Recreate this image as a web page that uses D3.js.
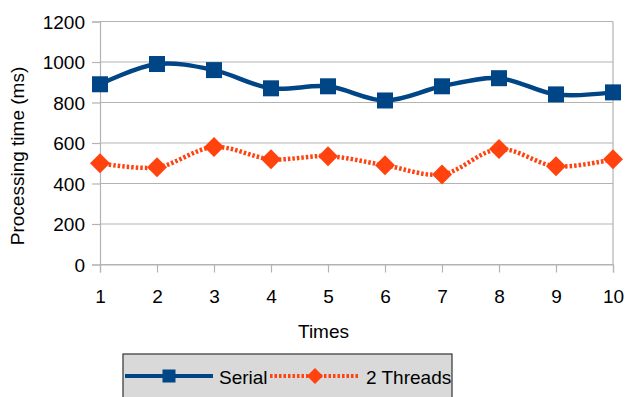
<!DOCTYPE html>
<html><head><meta charset="utf-8">
<script src="https://cdn.jsdelivr.net/npm/d3@7"></script>
<style>html,body{margin:0;padding:0;background:#fff;}svg{display:block;font-family:"Liberation Sans",Arial,sans-serif;}</style>
</head><body>
<script>
const times = [1,2,3,4,5,6,7,8,9,10];
const serial = [890,990,960,870,880,810,880,920,840,850];
const threads2 = [500,480,580,520,535,490,445,570,485,520];
const yTicks = [0,200,400,600,800,1000,1200];
const seriesNames = ["Serial","2 Threads"];

const W=625,H=397;
const FS=19;
const svg=d3.select("body").append("svg").attr("width",W).attr("height",H);
const x=d3.scaleLinear().domain([1,10]).range([100,613]);
const y=d3.scaleLinear().domain([0,1200]).range([264.5,21.5]);

// grid
svg.append("g").selectAll("line").data(yTicks).join("line")
 .attr("x1",100).attr("x2",613).attr("y1",d=>y(d)).attr("y2",d=>y(d))
 .attr("stroke","#b3b3b3").attr("stroke-width",1.2);
svg.append("line").attr("x1",613).attr("x2",613).attr("y1",y(1200)).attr("y2",y(0)).attr("stroke","#b3b3b3").attr("stroke-width",1.2);

// y axis
const ya=svg.append("g").attr("transform","translate(100,0)")
 .call(d3.axisLeft(y).tickValues(yTicks).tickSize(8).tickFormat(d3.format("d")));
ya.select(".domain").attr("stroke","#b3b3b3").attr("stroke-width",1.2);
ya.selectAll(".tick line").attr("stroke","#b3b3b3").attr("stroke-width",1.2);
ya.selectAll("text").attr("font-size",FS).attr("fill","#000").attr("x",-15).attr("dy","0.36em").attr("font-family","Liberation Sans, Arial, sans-serif");

// x axis
const xa=svg.append("g").attr("transform",`translate(0,${y(0)})`)
 .call(d3.axisBottom(x).tickValues(times).tickSize(8).tickFormat(d3.format("d")));
xa.select(".domain").attr("stroke","#b3b3b3").attr("stroke-width",1.2);
xa.selectAll(".tick line").attr("stroke","#b3b3b3").attr("stroke-width",1.2);
xa.selectAll("text").attr("font-size",FS).attr("fill","#000").attr("y",38.5).attr("dy",0).attr("font-family","Liberation Sans, Arial, sans-serif");

svg.append("text").attr("x",323.5).attr("y",338).attr("text-anchor","middle").attr("font-size",FS).text("Times");
svg.append("text").attr("transform","translate(24,156) rotate(-90)").attr("text-anchor","middle").attr("font-size",FS).text("Processing time (ms)");

const line=d3.line().x((d,i)=>x(times[i])).y(d=>y(d)).curve(d3.curveCatmullRom.alpha(0.5));
const blue="#004586", red="#ff420e";
svg.append("path").attr("d",line(serial)).attr("fill","none").attr("stroke",blue).attr("stroke-width",4.5);
svg.append("path").attr("d",line(threads2)).attr("fill","none").attr("stroke",red).attr("stroke-width",4.5).attr("stroke-dasharray","2.5,2");

const sq=16, dm=10;
svg.append("g").selectAll("rect").data(serial).join("rect")
 .attr("x",(d,i)=>x(times[i])-sq/2).attr("y",d=>y(d)-sq/2).attr("width",sq).attr("height",sq).attr("fill",blue);
svg.append("g").selectAll("path").data(threads2).join("path")
 .attr("d",(d,i)=>{const cx=x(times[i]),cy=y(d);return `M${cx},${cy-dm}L${cx+dm},${cy}L${cx},${cy+dm}L${cx-dm},${cy}Z`;})
 .attr("fill",red);

// legend
const lg=svg.append("g");
lg.append("rect").attr("x",123).attr("y",354).attr("width",329).attr("height",50).attr("fill","#d9d9d9").attr("stroke","#333").attr("stroke-width",1.2);
const ly=376, lsq=13, ldm=8;
lg.append("line").attr("x1",125).attr("x2",213).attr("y1",ly).attr("y2",ly).attr("stroke",blue).attr("stroke-width",4);
lg.append("rect").attr("x",169-lsq/2).attr("y",ly-lsq/2).attr("width",lsq).attr("height",lsq).attr("fill",blue);
lg.append("text").attr("x",219).attr("y",ly+7.5).attr("font-size",FS).text(seriesNames[0]);
lg.append("line").attr("x1",270).attr("x2",360).attr("y1",ly).attr("y2",ly).attr("stroke",red).attr("stroke-width",4).attr("stroke-dasharray","2.5,2");
lg.append("path").attr("d",`M315,${ly-ldm}L${315+ldm},${ly}L315,${ly+ldm}L${315-ldm},${ly}Z`).attr("fill",red);
lg.append("text").attr("x",366).attr("y",ly+7.5).attr("font-size",FS).text(seriesNames[1]);
</script>
</body></html>
